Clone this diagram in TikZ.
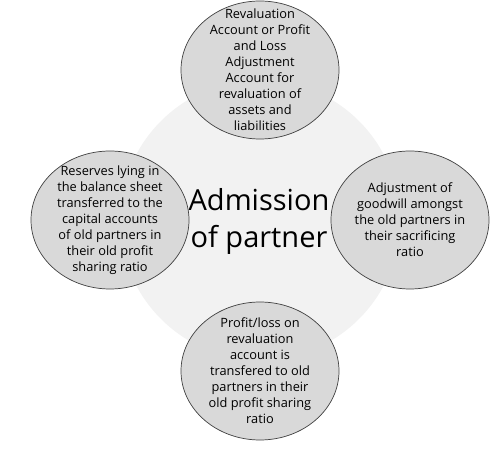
\documentclass[tikz,border=0pt]{standalone}
\usepackage{fontspec}
\setmainfont{Open Sans}
\usetikzlibrary{shapes.geometric}

\begin{document}
\begin{tikzpicture}[x=1pt, y=-1pt,
  bubble/.style={draw=black!75, line width=0.7pt, fill=black!15, ellipse, minimum width=158pt, minimum height=138pt, inner sep=0pt},
  blurb/.style={align=center, font=\fontsize{12.8}{16}\selectfont, inner sep=0pt}]
\useasboundingbox (0,0) rectangle (504,449);
\node[circle, fill=black!5, minimum size=280pt, inner sep=0pt] (A0) at (260,220) {};
\node[align=center, font=\fontsize{29}{37}\selectfont, inner sep=0pt] (T0) at (259,221) {Admission\\of partner};
\node[bubble] (A1) at (260,70) {};
\node[bubble] (A2) at (410,220) {};
\node[bubble] (A3) at (260,371) {};
\node[bubble] (A4) at (110,220) {};
\node[blurb] (T1) at (A1) {Revaluation\\Account or Profit\\and Loss\\Adjustment\\Account for\\revaluation of\\assets and\\liabilities};
\node[blurb] (T2) at (A2) {Adjustment of\\goodwill amongst\\the old partners in\\their sacrificing\\ratio};
\node[blurb] (T3) at (A3) {Profit/loss on\\revaluation\\account is\\transfered to old\\partners in their\\old profit sharing\\ratio};
\node[blurb] (T4) at (A4) {Reserves lying in\\the balance sheet\\transferred to the\\capital accounts\\of old partners in\\their old profit\\sharing ratio};
\end{tikzpicture}
\end{document}
